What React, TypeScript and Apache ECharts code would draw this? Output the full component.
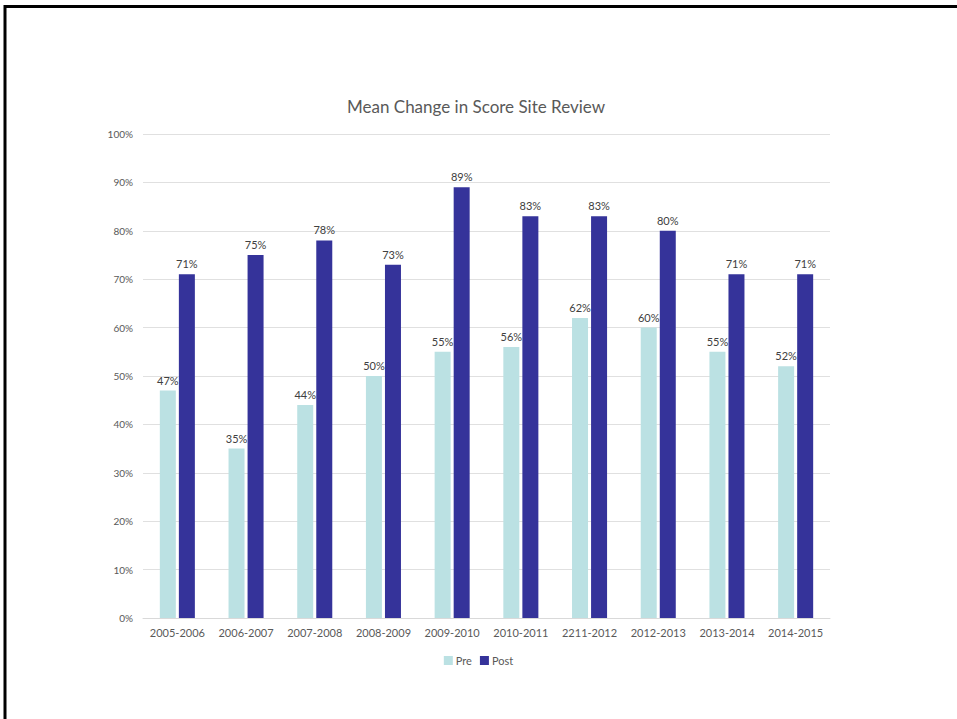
import React, { useEffect, useRef } from "react";
import * as echarts from "echarts";

const categories = ["2005-2006", "2006-2007", "2007-2008", "2008-2009", "2009-2010", "2010-2011", "2211-2012", "2012-2013", "2013-2014", "2014-2015"];
const preValues = [47, 35, 44, 50, 55, 56, 62, 60, 55, 52];
const postValues = [71, 75, 78, 73, 89, 83, 83, 80, 71, 71];

const FONT = "Lato, 'Open Sans', sans-serif";
const TEXT = "#595959";

export default function App() {
  const ref = useRef<HTMLDivElement>(null);
  useEffect(() => {
    if (!ref.current) return;
    const chart = echarts.init(ref.current, null, { renderer: "svg" });
    chart.setOption({
      animation: false,
      backgroundColor: "#ffffff",
      title: {
        text: "Mean Change in Score Site Review",
        left: 471,
        textAlign: "center",
        top: 93,
        textStyle: { fontFamily: FONT, fontSize: 17, fontWeight: "normal", color: TEXT },
      },
      legend: {
        data: ["Pre", "Post"],
        left: "center",
        top: 650,
        itemWidth: 9,
        itemHeight: 9,
        itemGap: 8,
        icon: "rect",
        textStyle: { fontFamily: FONT, fontSize: 11, color: TEXT, padding: [0, 0, 0, -2] },
      },
      grid: { left: 143, right: 127, top: 134, bottom: 101, containLabel: false },
      xAxis: {
        type: "category",
        data: categories,
        axisLine: { lineStyle: { color: "#d9d9d9" } },
        axisTick: { show: false },
        axisLabel: { interval: 0, fontFamily: FONT, fontSize: 11, color: TEXT, margin: 9 },
      },
      yAxis: {
        type: "value",
        min: 0,
        max: 100,
        interval: 10,
        axisLine: { show: false },
        axisTick: { show: false },
        splitLine: { lineStyle: { color: "#e0e0e0" } },
        axisLabel: { fontFamily: FONT, fontSize: 10, color: TEXT, formatter: "{value}%", margin: 10 },
      },
      series: [
        {
          name: "Pre",
          type: "bar",
          data: preValues,
          barWidth: 16,
          barGap: "19%",
          itemStyle: { color: "#BBE1E3" },
          label: { show: true, position: "top", formatter: "{c}%", fontFamily: FONT, fontSize: 11, color: "#404040", distance: 5 },
        },
        {
          name: "Post",
          type: "bar",
          data: postValues,
          barWidth: 16,
          itemStyle: { color: "#35339A" },
          label: { show: true, position: "top", formatter: "{c}%", fontFamily: FONT, fontSize: 11, color: "#404040", distance: 5 },
        },
      ],
      graphic: [
        {
          type: "rect",
          shape: { x: 5, y: 6.5, width: 1000, height: 1000 },
          style: { fill: "none", stroke: "#000", lineWidth: 3 },
          silent: true,
        },
      ],
    });
    return () => chart.dispose();
  }, []);
  return <div ref={ref} style={{ position: "absolute", left: 0, top: 0, width: 957, height: 719 }} />;
}
